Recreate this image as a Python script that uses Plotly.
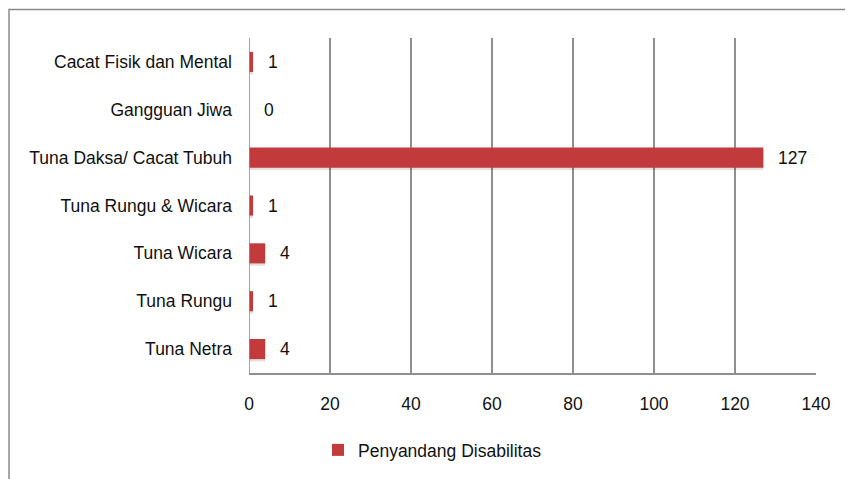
import plotly.graph_objects as go

categories = ["Tuna Netra", "Tuna Rungu", "Tuna Wicara", "Tuna Rungu & Wicara",
              "Tuna Daksa/ Cacat Tubuh", "Gangguan Jiwa", "Cacat Fisik dan Mental"]
values = [4, 1, 4, 1, 127, 0, 1]
series_name = "Penyandang Disabilitas"
x_ticks = [0, 20, 40, 60, 80, 100, 120, 140]

FONT = "Liberation Sans, Arial, sans-serif"
FS = 17.5
W, H = 853, 479
OFF = 8  # page body margin
# target plot area on screen: x 249..816, y 38..373
L = 249 - OFF
T = 38 - OFF
R = W - (816 - OFF)
B = H - (373 - OFF)
pw, ph = W - L - R, H - T - B


def px_to_paper_x(sx):
    return (sx - OFF - L) / pw


def px_to_paper_y(sy):
    return (T + ph - (sy - OFF)) / ph


fig = go.Figure()
# soft shadow
fig.add_trace(go.Bar(
    y=categories, x=values, orientation="h", width=0.42, offset=-0.26,
    marker=dict(color="rgba(0,0,0,0.12)", line=dict(width=0)),
    showlegend=False, hoverinfo="skip"))
fig.add_trace(go.Bar(
    y=categories, x=values, orientation="h", width=0.42, offset=-0.21,
    name=series_name,
    marker=dict(color="#c23a3b", line=dict(width=0))))

for c, v in zip(categories, values):
    fig.add_annotation(x=v, y=c, text=str(v), showarrow=False, xanchor="left",
                       xshift=13, font=dict(family=FONT, size=FS, color="#111"))

# outer chart frame
fig.add_shape(type="rect", xref="paper", yref="paper",
              x0=px_to_paper_x(OFF + 1), x1=1.3, y0=-0.6, y1=px_to_paper_y(9.5),
              line=dict(color="#8a8a8a", width=1.5), fillcolor="rgba(0,0,0,0)")

fig.update_layout(
    width=W, height=H, margin=dict(l=L, r=R, t=T, b=B, autoexpand=False),
    paper_bgcolor="white", plot_bgcolor="white",
    barmode="overlay",
    font=dict(family=FONT, size=FS, color="#111"),
    showlegend=True,
    legend=dict(orientation="h", x=px_to_paper_x(318), xanchor="left",
                y=px_to_paper_y(450), yanchor="middle",
                font=dict(family=FONT, size=FS, color="#111"),
                itemwidth=30),
    xaxis=dict(range=[0, 140], tickvals=x_ticks, showgrid=True,
               gridcolor="#8f8f8f", gridwidth=1.6, zeroline=False,
               showline=True, linecolor="#8f8f8f", linewidth=1.6,
               ticks="", ticklabelstandoff=14, automargin=False,
               tickfont=dict(family=FONT, size=FS, color="#111")),
    yaxis=dict(categoryorder="array", categoryarray=categories,
               showgrid=False, zeroline=False, showline=False,
               ticks="", ticklabelstandoff=16, automargin=False,
               tickfont=dict(family=FONT, size=FS, color="#111")),
)
fig.add_vline(x=0, line=dict(color="#8f8f8f", width=1.6))

fig.write_html("out.html")
